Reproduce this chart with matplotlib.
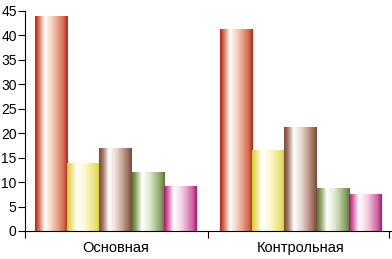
import numpy as np
import matplotlib
matplotlib.use("Agg")
import matplotlib.pyplot as plt
from matplotlib.colors import LinearSegmentedColormap

plt.rcParams['font.family'] = ['Liberation Sans', 'DejaVu Sans']

groups = ['Основная', 'Контрольная']
values = [
    [44, 14, 17, 12, 9.2],
    [41.3, 16.5, 21.2, 8.8, 7.5],
]
# dark edge, base, light tint for each series
colours = [
    ('#b8241e', '#d26a4c', '#f2c8b4'),
    ('#d8cc30', '#e8e070', '#fbf8d0'),
    ('#7a4a3a', '#a07060', '#e6d2c8'),
    ('#5a7a30', '#88a060', '#dde8cc'),
    ('#b8107a', '#d060a0', '#f4d0e4'),
]
yticks = [0, 5, 10, 15, 20, 25, 30, 35, 40, 45]

fig = plt.figure(figsize=(3.92, 2.59), dpi=100)
ax = fig.add_axes([25 / 392, 28 / 259, 1 - 25 / 392, 220 / 259])

width = 0.174
n = len(colours)
x = np.arange(len(groups))
for i, (dark, base, light) in enumerate(colours):
    cmap = LinearSegmentedColormap.from_list(
        'g%d' % i,
        [(0, dark), (0.1, base), (0.3, '#ffffff'), (0.55, light),
         (0.88, base), (1.0, dark)])
    pos = x + (i - (n - 1) / 2) * width
    vals = [v[i] for v in values]
    bars = ax.bar(pos, vals, width, color=base, linewidth=0)
    grad = np.linspace(0, 1, 64).reshape(1, -1)
    for b in bars:
        x0, y0 = b.get_x(), b.get_y()
        im = ax.imshow(grad, cmap=cmap, aspect='auto', interpolation='bilinear',
                       extent=(x0, x0 + b.get_width(), y0, y0 + b.get_height()),
                       zorder=2)
        im.set_clip_path(b)

ax.set_xlim(-0.489, 1.495)
ax.set_ylim(0, 45)
ax.set_yticks(yticks)
ax.set_xticks(x)
ax.set_xticklabels(groups, fontsize=10.5)
ax.set_xticks([-0.489, 0.5, 1.48], minor=True)
ax.tick_params(axis='x', which='major', length=0, pad=7)
ax.tick_params(axis='x', which='minor', length=5, width=0.8, direction='out')
ax.tick_params(axis='y', length=5, width=0.8, pad=1, labelsize=10)
for s in ['top', 'right']:
    ax.spines[s].set_visible(False)
ax.spines['left'].set_linewidth(0.8)
ax.spines['bottom'].set_linewidth(0.8)

fig.savefig('out.png', dpi=100)
